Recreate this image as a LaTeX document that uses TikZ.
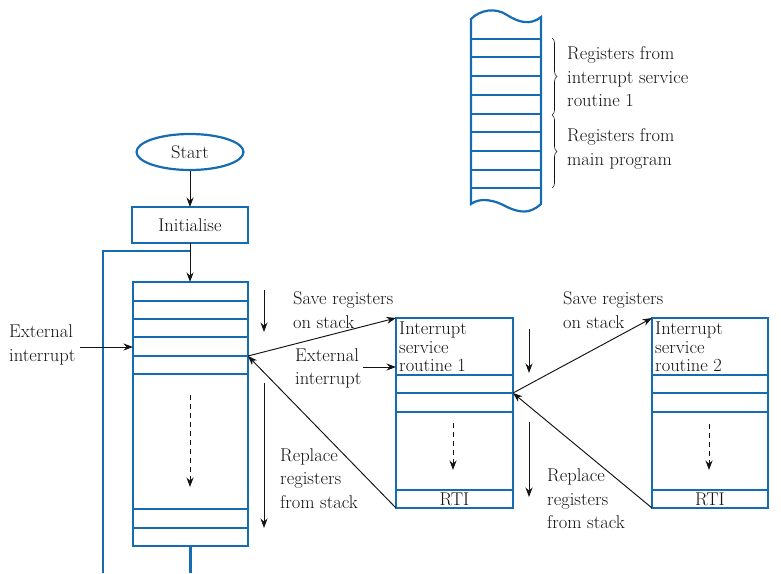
\documentclass[tikz,border=0pt]{standalone}
\usetikzlibrary{arrows.meta,shapes.geometric,decorations.pathreplacing}
\definecolor{sblue}{RGB}{22,108,178}
\definecolor{txt}{RGB}{20,18,18}
\tikzset{
  blueline/.style={draw=sblue,line width=2.2pt},
  box/.style={draw=sblue,line width=2.2pt,rectangle,inner sep=0pt,outer sep=0pt,anchor=north west},
  arr/.style={-{Stealth[length=9.5pt,width=7pt]},line width=0.95pt,draw=txt},
  dasharr/.style={arr,dash pattern=on 5pt off 4pt},
  lbl/.style={font=\fontsize{18.5}{23.5}\selectfont,text=txt,align=left,anchor=west,inner sep=0pt},
  isrlbl/.style={font=\fontsize{18.5}{18.5}\selectfont,text=txt,align=left,anchor=north west,inner sep=0pt},
  plain/.style={font=\fontsize{18.5}{20}\selectfont,text=txt},
  brc/.style={decorate,decoration={brace,amplitude=5pt},line width=0.6pt,draw=txt},
}
\begin{document}
\begin{tikzpicture}[x=1pt,y=-1pt]
\useasboundingbox (0,0) rectangle (781,573);

% ---- stack picture (top right)
\draw[blueline] (471,19) .. controls (480,10) and (495,7) .. (507,15)
  .. controls (518,22) and (530,26) .. (541,17) -- (541,204)
  .. controls (530,214) and (520,213) .. (507,207)
  .. controls (495,200) and (480,197) .. (471,204) -- cycle;
\foreach \y in {39.3,57.3,76,95,114,132.3,151,170,188.3}
  \draw[blueline] (471,\y) -- (541,\y);
\draw[brc] (552,38) -- (552,115);
\draw[brc] (552,115) -- (552,188);
\node[lbl] (r1) at (567,77) {Registers from\\interrupt service\\routine 1};
\node[lbl] (r2) at (567,149) {Registers from\\main program};

% ---- start / initialise
\node[ellipse,draw=sblue,line width=2.2pt,minimum width=107pt,minimum height=36pt,inner sep=0pt,plain]
      (start) at (190,152) {Start};
\node[box,anchor=center,minimum width=116pt,minimum height=36pt,plain]
      (init) at (190,225) {Initialise};
\draw[arr] (start) -- (init);

% ---- main program column
\node[box,minimum width=115pt,minimum height=264pt] (main) at (133,282) {};
\foreach \y in {300.7,319,337,356,374,509,528}
  \draw[blueline] (133,\y) -- (248,\y);
\draw[arr] (init.south) -- (main.north -| init.south);
\coordinate (loopjoin) at (190,251);
\coordinate (loopend) at (103,573);
\draw[blueline] (loopjoin) -| (loopend);
\coordinate (mainout) at (190.5,573);
\draw[blueline] (main.south) -- (mainout);
\draw[dasharr] (190,395) -- (190,487);

\node[lbl] (ext1) at (9,345) {External\\interrupt};
\coordinate (ext1s) at (80,347);
\draw[arr] (ext1s) -- (133,347);

\coordinate (mainR) at (248,356);

% ---- ISR 1
\node[box,minimum width=117pt,minimum height=190pt] (isr1) at (396,318) {};
\foreach \y in {375,393,412,490}
  \draw[blueline] (396,\y) -- (513,\y);
\node[isrlbl] (isr1t) at (399,322) {Interrupt\\service\\routine 1};
\node[plain,inner sep=0pt] (rti1) at (454.5,499.5) {RTI};
\draw[dasharr] (453,423) -- (453,470);
\coordinate (isr1R) at (513,393);

\draw[arr] (mainR) -- (isr1.north west);
\draw[arr] (isr1.south west) -- (mainR);
\draw[arr] (264,290) -- (264,332);
\draw[arr] (264,383) -- (264,528);
\node[lbl] (save1) at (293,310) {Save registers\\on stack};
\node[lbl] (ext2) at (295,368.5) {External\\interrupt};
\coordinate (ext2s) at (363,367);
\draw[arr] (ext2s) -- (396,367);
\node[lbl] (rep1) at (280,478.5) {Replace\\registers\\from stack};

% ---- ISR 2
\node[box,minimum width=116pt,minimum height=190pt] (isr2) at (652,318) {};
\foreach \y in {375,393,412,490}
  \draw[blueline] (652,\y) -- (768,\y);
\node[isrlbl] (isr2t) at (655,322) {Interrupt\\service\\routine 2};
\node[plain,inner sep=0pt] (rti2) at (710,499.5) {RTI};
\draw[dasharr] (709,424) -- (709,470);

\draw[arr] (isr1R) -- (isr2.north west);
\draw[arr] (isr2.south west) -- (isr1R);
\draw[arr] (529,329) -- (529,373);
\draw[arr] (529,422) -- (529,497);
\node[lbl] (save2) at (563,310) {Save registers\\on stack};
\node[lbl] (rep2) at (547,499) {Replace\\registers\\from stack};
\end{tikzpicture}
\end{document}
